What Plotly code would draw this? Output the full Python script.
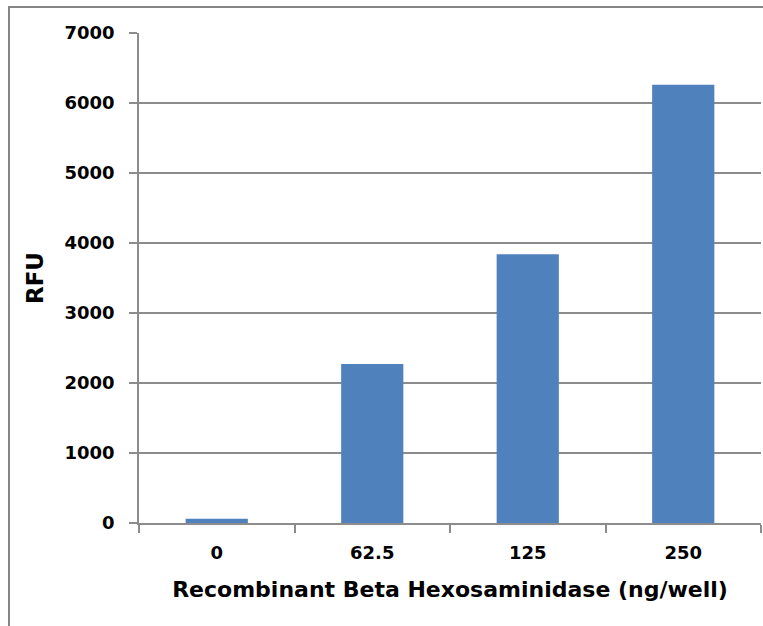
import plotly.graph_objects as go

categories = ["0", "62.5", "125", "250"]
rfu_values = [60, 2270, 3840, 6260]
y_tick_vals = [0, 1000, 2000, 3000, 4000, 5000, 6000, 7000]

FONT = "DejaVu Sans"
GRID = "#8c8c8c"

fig = go.Figure()
fig.add_trace(go.Bar(
    x=categories, y=rfu_values,
    marker=dict(color="#4F81BD", line=dict(width=0)),
    width=0.4,
))

fig.update_layout(
    width=763, height=626,
    margin=dict(l=139, r=2, t=33, b=103, autoexpand=False),
    paper_bgcolor="white", plot_bgcolor="white",
    showlegend=False,
    font=dict(family=FONT, color="black"),
    bargap=0.6,
)
fig.update_xaxes(
    type="category",
    showline=True, linecolor=GRID, linewidth=1.5,
    ticks="outside", ticklen=8, tickcolor=GRID, tickwidth=1.5,
    tickson="boundaries",
    tickfont=dict(family=FONT, size=18, color="black", weight="bold"),
    ticklabelstandoff=13,
    showgrid=False,
    title=dict(text="Recombinant Beta Hexosaminidase (ng/well)",
               font=dict(family=FONT, size=22, color="black", weight="bold"),
               standoff=19),
)
fig.update_yaxes(
    range=[0, 7000], tickvals=y_tick_vals,
    showline=True, linecolor=GRID, linewidth=1.5,
    ticks="outside", ticklen=8, tickcolor=GRID, tickwidth=1.5,
    showgrid=True, gridcolor=GRID, gridwidth=1.5,
    zeroline=False,
    tickfont=dict(family=FONT, size=18, color="black", weight="bold"),
    ticklabelstandoff=11,
    title=dict(text="RFU", font=dict(family=FONT, size=23, color="black", weight="bold"),
               standoff=14),
)
fig.add_shape(type="rect", xref="paper", yref="paper",
              x0=(9 - 139) / 622, x1=(766 - 139) / 622,
              y0=-0.3, y1=1 + (33 - 7) / 490,
              line=dict(color="#868686", width=2), layer="below")

fig.write_html("out.html", config={"displayModeBar": False},
               post_script="document.body.style.margin='0px';")
